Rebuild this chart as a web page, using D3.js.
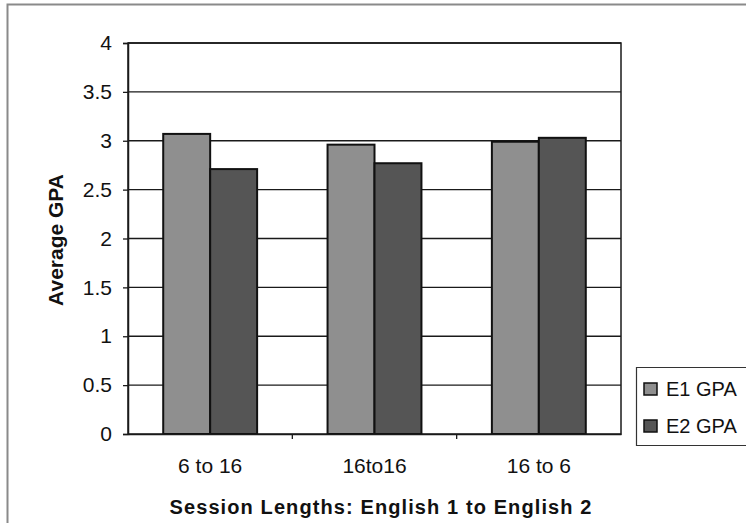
<!DOCTYPE html>
<html>
<head>
<meta charset="utf-8">
<script src="https://cdn.jsdelivr.net/npm/d3@7/dist/d3.min.js"></script>
<style>
  html, body { margin: 0; padding: 0; background: #ffffff; }
  svg { display: block; }
  text { font-family: "Liberation Sans", Arial, sans-serif; fill: #111; }
</style>
</head>
<body>
<svg id="chart" width="746" height="523"></svg>
<script>
// Average GPA by session-length pairing
const categories = ["6 to 16", "16to16", "16 to 6"];
const seriesNames = ["E1 GPA", "E2 GPA"];
const e1Gpa = [3.07, 2.96, 2.99];
const e2Gpa = [2.71, 2.77, 3.03];
const yTicks = [0, 0.5, 1, 1.5, 2, 2.5, 3, 3.5, 4];
const seriesColors = ["#8f8f8f", "#555555"];

const rows = categories.map((c, i) => ({ cat: c, values: [e1Gpa[i], e2Gpa[i]] }));

const svg = d3.select("#chart");
const plot = { left: 128, right: 621, top: 43, bottom: 434 };
const FONT = "Liberation Sans, Arial, sans-serif";

// outer chart frame (top and left edges)
svg.append("path")
  .attr("d", "M7.5,523 V4.5 H746")
  .attr("fill", "none")
  .attr("stroke", "#8a8a8a")
  .attr("stroke-width", 2);

const x0 = d3.scaleBand().domain(categories).range([plot.left, plot.right]).padding(0);
const x1 = d3.scaleBand().domain(seriesNames).range([0, x0.bandwidth()])
  .paddingInner(0).paddingOuter(0.75);
const y = d3.scaleLinear().domain([0, 4]).range([plot.bottom, plot.top]);

// gridlines
svg.append("g")
  .selectAll("line")
  .data(yTicks.filter(t => t > 0))
  .join("line")
  .attr("x1", plot.left).attr("x2", plot.right)
  .attr("y1", d => y(d)).attr("y2", d => y(d))
  .attr("stroke", "#1a1a1a").attr("stroke-width", 1.3);

// plot border
svg.append("rect")
  .attr("x", plot.left).attr("y", plot.top)
  .attr("width", plot.right - plot.left).attr("height", plot.bottom - plot.top)
  .attr("fill", "none").attr("stroke", "#1a1a1a").attr("stroke-width", 1.5);

// bars
svg.append("g")
  .selectAll("g")
  .data(rows)
  .join("g")
  .attr("transform", d => `translate(${x0(d.cat)},0)`)
  .selectAll("rect")
  .data(d => d.values.map((v, i) => ({ key: seriesNames[i], v, i })))
  .join("rect")
  .attr("x", d => x1(d.key))
  .attr("y", d => y(d.v))
  .attr("width", x1.bandwidth())
  .attr("height", d => y(0) - y(d.v))
  .attr("fill", d => seriesColors[d.i])
  .attr("stroke", "#111")
  .attr("stroke-width", 2);

// y axis
const yAxis = svg.append("g")
  .attr("transform", `translate(${plot.left},0)`)
  .call(d3.axisLeft(y).tickValues(yTicks).tickSize(5).tickPadding(11)
    .tickFormat(d => String(d)));
yAxis.attr("font-size", null).attr("font-family", null);
yAxis.select(".domain").attr("stroke", "#1a1a1a").attr("stroke-width", 1.5);
yAxis.selectAll(".tick line").attr("stroke", "#1a1a1a").attr("stroke-width", 1.3);
yAxis.selectAll(".tick text")
  .attr("font-size", 21).attr("font-family", FONT)
  .attr("fill", "#111");

// x axis: ticks between categories, labels centred on each group
const xAxis = svg.append("g")
  .attr("transform", `translate(0,${plot.bottom})`)
  .call(d3.axisBottom(x0).tickSize(0));
xAxis.attr("font-size", null).attr("font-family", null);
xAxis.select(".domain").attr("stroke", "#1a1a1a").attr("stroke-width", 1.5);
xAxis.selectAll(".tick text")
  .attr("y", 39).attr("dy", 0)
  .attr("font-size", 21).attr("font-family", FONT)
  .attr("fill", "#111");
xAxis.selectAll(".sep")
  .data(categories.slice(1))
  .join("line")
  .attr("class", "sep")
  .attr("x1", d => x0(d)).attr("x2", d => x0(d))
  .attr("y1", 0).attr("y2", 5)
  .attr("stroke", "#1a1a1a").attr("stroke-width", 1.3);

// axis titles
svg.append("text")
  .attr("transform", `translate(63,240) rotate(-90)`)
  .attr("text-anchor", "middle")
  .attr("font-size", 21).attr("font-weight", "bold")
  .text("Average GPA");

svg.append("text")
  .attr("x", 381).attr("y", 514)
  .attr("text-anchor", "middle")
  .attr("font-size", 20).attr("font-weight", "bold")
  .attr("letter-spacing", 1.1)
  .text("Session Lengths: English 1 to English 2");

// legend
const legend = svg.append("g");
legend.append("path")
  .attr("d", "M749,367.5 H636.5 V445.5 H749")
  .attr("fill", "#fff").attr("stroke", "#333").attr("stroke-width", 1.2);
const items = legend.selectAll("g.item")
  .data(seriesNames)
  .join("g")
  .attr("class", "item")
  .attr("transform", (d, i) => `translate(644,${389 + i * 37})`);
items.append("rect")
  .attr("x", 0).attr("y", -6).attr("width", 13).attr("height", 12)
  .attr("fill", (d, i) => seriesColors[i])
  .attr("stroke", "#111").attr("stroke-width", 1.5);
items.append("text")
  .attr("x", 22).attr("y", 7)
  .attr("font-size", 20)
  .text(d => d);
</script>
</body>
</html>
